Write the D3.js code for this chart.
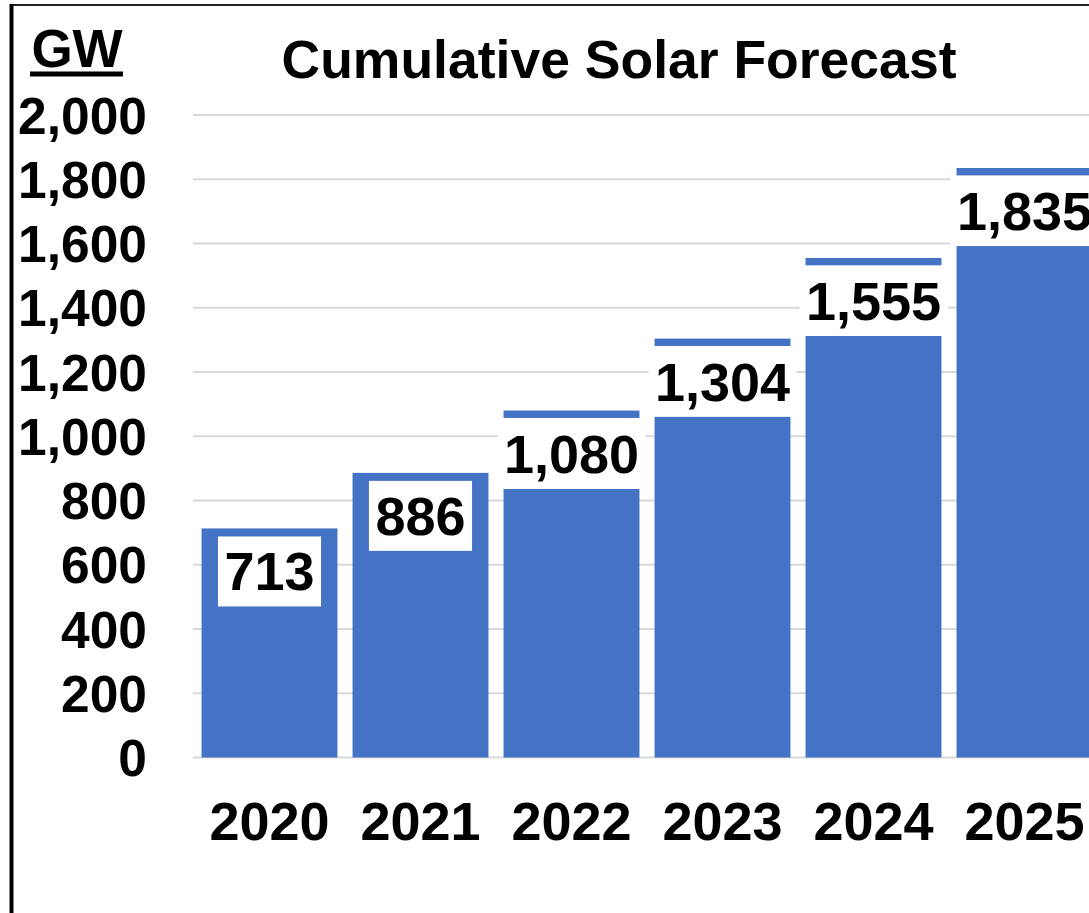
<!DOCTYPE html>
<html>
<head>
<meta charset="utf-8">
<script src="https://cdn.jsdelivr.net/npm/d3@7"></script>
<style>
  body { margin: 0; background: #fff; }
  text { font-family: "Liberation Sans", Arial, sans-serif; font-weight: bold; fill: #000; }
</style>
</head>
<body>
<div id="chart"></div>
<script>
// Cumulative solar forecast, GW

const years = ["2020", "2021", "2022", "2023", "2024", "2025"];
// labelled cumulative totals
const totals = [713, 886, 1080, 1304, 1555, 1835];
// height of the solid bar (forecast years drawn lower, with a cap at the total)
const barValues = [713, 886, 836, 1061, 1312, 1592];
// which years get the thin cap line at the total
const hasCap = [false, false, true, true, true, true];
const yTicks = [0, 200, 400, 600, 800, 1000, 1200, 1400, 1600, 1800, 2000];

const width = 1089, height = 913;
const blue = "#4472c4";
const capValue = 23;

let svg = d3.select("#chart").append("svg")
    .attr("width", width).attr("height", height);

let x = d3.scaleBand()
    .domain(years)
    .range([194, 1100])
    .paddingInner(0.1)
    .paddingOuter(0.05);

let y = d3.scaleLinear()
    .domain([0, 2000])
    .range([757.5, 115]);

let data = years.map((yr, i) => ({year: yr, total: totals[i], bar: barValues[i], cap: hasCap[i]}));

// gridlines
svg.append("g")
    .selectAll("line")
    .data(yTicks)
    .enter().append("line")
    .attr("x1", 193).attr("x2", width)
    .attr("y1", d => y(d)).attr("y2", d => y(d))
    .attr("stroke", "#d9d9d9")
    .attr("stroke-width", 2);

// y tick labels
svg.append("g")
    .selectAll("text")
    .data(yTicks)
    .enter().append("text")
    .attr("x", 147)
    .attr("y", d => y(d))
    .attr("dy", "0.36em")
    .attr("text-anchor", "end")
    .style("font-size", "51.5px")
    .text(d => d3.format(",")(d));

// bars
svg.append("g")
    .selectAll("rect")
    .data(data)
    .enter().append("rect")
    .attr("x", d => x(d.year))
    .attr("width", x.bandwidth())
    .attr("y", d => y(d.bar))
    .attr("height", d => y(0) - y(d.bar))
    .attr("fill", blue);

// caps at the total value
svg.append("g")
    .selectAll("rect")
    .data(data.filter(d => d.cap))
    .enter().append("rect")
    .attr("x", d => x(d.year))
    .attr("width", x.bandwidth())
    .attr("y", d => y(d.total))
    .attr("height", d => y(d.total - capValue) - y(d.total))
    .attr("fill", blue);

// value labels with white boxes
let labels = svg.append("g")
    .selectAll("g")
    .data(data)
    .enter().append("g");

labels.append("text")
    .attr("x", d => x(d.year) + x.bandwidth() / 2)
    .attr("y", d => y(d.total) + 62)
    .attr("text-anchor", "middle")
    .style("font-size", "54px")
    .text(d => d3.format(",")(d.total));

labels.insert("rect", "text")
    .attr("fill", "#fff")
    .attr("y", d => y(d.total) + 8)
    .attr("height", 70)
    .each(function (d) {
        let w = d3.select(this.parentNode).select("text").node().getComputedTextLength() + 13;
        d3.select(this)
            .attr("x", x(d.year) + x.bandwidth() / 2 - w / 2)
            .attr("width", w);
    });

// x labels
svg.append("g")
    .selectAll("text")
    .data(years)
    .enter().append("text")
    .attr("x", d => x(d) + x.bandwidth() / 2)
    .attr("y", 840)
    .attr("text-anchor", "middle")
    .style("font-size", "54px")
    .text(d => d);

// title
svg.append("text")
    .attr("x", 619)
    .attr("y", 78)
    .attr("text-anchor", "middle")
    .style("font-size", "53.5px")
    .text("Cumulative Solar Forecast");

// unit label
svg.append("text")
    .attr("x", 77)
    .attr("y", 67)
    .attr("text-anchor", "middle")
    .style("font-size", "53px")
    .text("GW");
svg.append("line")
    .attr("x1", 30).attr("x2", 123)
    .attr("y1", 74).attr("y2", 74)
    .attr("stroke", "#000")
    .attr("stroke-width", 5);

// frame lines
svg.append("line")
    .attr("x1", 10).attr("x2", width)
    .attr("y1", 5).attr("y2", 5)
    .attr("stroke", "#222")
    .attr("stroke-width", 2);
svg.append("line")
    .attr("x1", 11.5).attr("x2", 11.5)
    .attr("y1", 4).attr("y2", height)
    .attr("stroke", "#000")
    .attr("stroke-width", 4);
</script>
</body>
</html>
